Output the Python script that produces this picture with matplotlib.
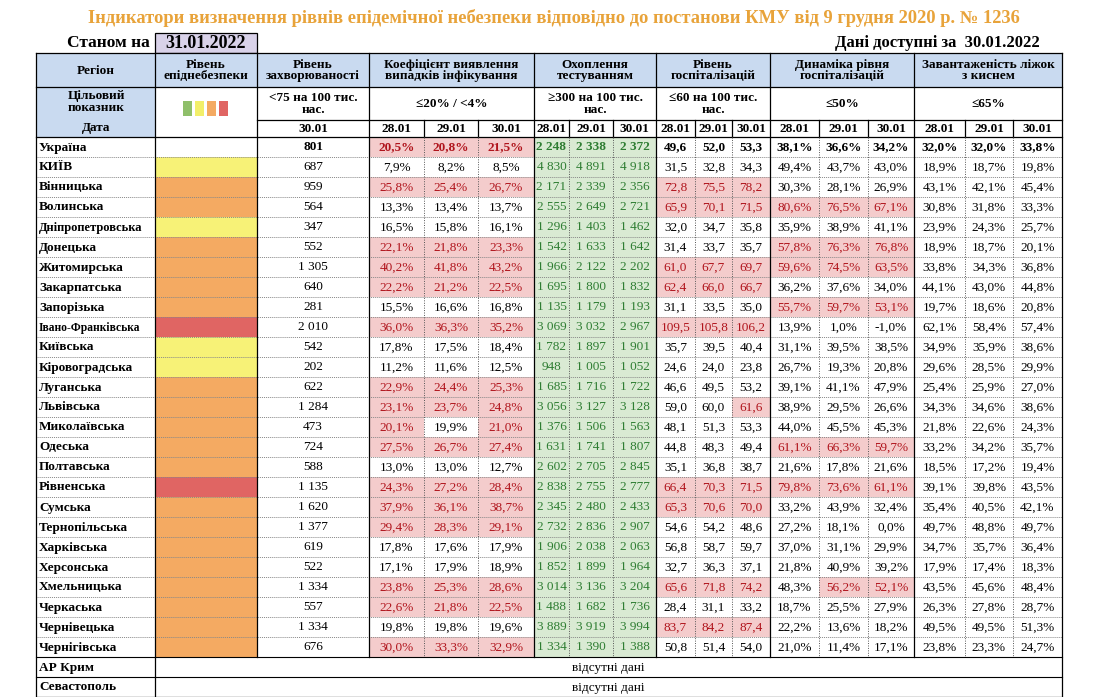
import matplotlib.pyplot as plt
from matplotlib.patches import Rectangle

plt.rcParams['font.family'] = 'Liberation Serif'

regions = ['Україна', 'КИЇВ', 'Вінницька', 'Волинська', 'Дніпропетровська', 'Донецька',
           'Житомирська', 'Закарпатська', 'Запорізька', 'Івано-Франківська', 'Київська',
           'Кіровоградська', 'Луганська', 'Львівська', 'Миколаївська', 'Одеська',
           'Полтавська', 'Рівненська', 'Сумська', 'Тернопільська', 'Харківська',
           'Херсонська', 'Хмельницька', 'Черкаська', 'Чернівецька', 'Чернігівська']
levels = ['', 'Y', 'O', 'O', 'Y', 'O', 'O', 'O', 'O', 'R', 'Y', 'Y', 'O', 'O', 'O', 'O',
          'O', 'R', 'O', 'O', 'O', 'O', 'O', 'O', 'O', 'O']
incidence = [801, 687, 959, 564, 347, 552, 1305, 640, 281, 2010, 542, 202, 622, 1284,
             473, 724, 588, 1135, 1620, 1377, 619, 522, 1334, 557, 1334, 676]
detection = [[20.5, 20.8, 21.5], [7.9, 8.2, 8.5], [25.8, 25.4, 26.7], [13.3, 13.4, 13.7],
             [16.5, 15.8, 16.1], [22.1, 21.8, 23.3], [40.2, 41.8, 43.2], [22.2, 21.2, 22.5],
             [15.5, 16.6, 16.8], [36.0, 36.3, 35.2], [17.8, 17.5, 18.4], [11.2, 11.6, 12.5],
             [22.9, 24.4, 25.3], [23.1, 23.7, 24.8], [20.1, 19.9, 21.0], [27.5, 26.7, 27.4],
             [13.0, 13.0, 12.7], [24.3, 27.2, 28.4], [37.9, 36.1, 38.7], [29.4, 28.3, 29.1],
             [17.8, 17.6, 17.9], [17.1, 17.9, 18.9], [23.8, 25.3, 28.6], [22.6, 21.8, 22.5],
             [19.8, 19.8, 19.6], [30.0, 33.3, 32.9]]
testing = [[2248, 2338, 2372], [4830, 4891, 4918], [2171, 2339, 2356], [2555, 2649, 2721],
           [1296, 1403, 1462], [1542, 1633, 1642], [1966, 2122, 2202], [1695, 1800, 1832],
           [1135, 1179, 1193], [3069, 3032, 2967], [1782, 1897, 1901], [948, 1005, 1052],
           [1685, 1716, 1722], [3056, 3127, 3128], [1376, 1506, 1563], [1631, 1741, 1807],
           [2602, 2705, 2845], [2838, 2755, 2777], [2345, 2480, 2433], [2732, 2836, 2907],
           [1906, 2038, 2063], [1852, 1899, 1964], [3014, 3136, 3204], [1488, 1682, 1736],
           [3889, 3919, 3994], [1334, 1390, 1388]]
hosp = [[49.6, 52.0, 53.3], [31.5, 32.8, 34.3], [72.8, 75.5, 78.2], [65.9, 70.1, 71.5],
        [32.0, 34.7, 35.8], [31.4, 33.7, 35.7], [61.0, 67.7, 69.7], [62.4, 66.0, 66.7],
        [31.1, 33.5, 35.0], [109.5, 105.8, 106.2], [35.7, 39.5, 40.4], [24.6, 24.0, 23.8],
        [46.6, 49.5, 53.2], [59.0, 60.0, 61.6], [48.1, 51.3, 53.3], [44.8, 48.3, 49.4],
        [35.1, 36.8, 38.7], [66.4, 70.3, 71.5], [65.3, 70.6, 70.0], [54.6, 54.2, 48.6],
        [56.8, 58.7, 59.7], [32.7, 36.3, 37.1], [65.6, 71.8, 74.2], [28.4, 31.1, 33.2],
        [83.7, 84.2, 87.4], [50.8, 51.4, 54.0]]
hosp_dyn = [[38.1, 36.6, 34.2], [49.4, 43.7, 43.0], [30.3, 28.1, 26.9], [80.6, 76.5, 67.1],
            [35.9, 38.9, 41.1], [57.8, 76.3, 76.8], [59.6, 74.5, 63.5], [36.2, 37.6, 34.0],
            [55.7, 59.7, 53.1], [13.9, 1.0, -1.0], [31.1, 39.5, 38.5], [26.7, 19.3, 20.8],
            [39.1, 41.1, 47.9], [38.9, 29.5, 26.6], [44.0, 45.5, 45.3], [61.1, 66.3, 59.7],
            [21.6, 17.8, 21.6], [79.8, 73.6, 61.1], [33.2, 43.9, 32.4], [27.2, 18.1, 0.0],
            [37.0, 31.1, 29.9], [21.8, 40.9, 39.2], [48.3, 56.2, 52.1], [18.7, 25.5, 27.9],
            [22.2, 13.6, 18.2], [21.0, 11.4, 17.1]]
beds = [[32.0, 32.0, 33.8], [18.9, 18.7, 19.8], [43.1, 42.1, 45.4], [30.8, 31.8, 33.3],
        [23.9, 24.3, 25.7], [18.9, 18.7, 20.1], [33.8, 34.3, 36.8], [44.1, 43.0, 44.8],
        [19.7, 18.6, 20.8], [62.1, 58.4, 57.4], [34.9, 35.9, 38.6], [29.6, 28.5, 29.9],
        [25.4, 25.9, 27.0], [34.3, 34.6, 38.6], [21.8, 22.6, 24.3], [33.2, 34.2, 35.7],
        [18.5, 17.2, 19.4], [39.1, 39.8, 43.5], [35.4, 40.5, 42.1], [49.7, 48.8, 49.7],
        [34.7, 35.7, 36.4], [17.9, 17.4, 18.3], [43.5, 45.6, 48.4], [26.3, 27.8, 28.7],
        [49.5, 49.5, 51.3], [23.8, 23.3, 24.7]]
dates = ['28.01', '29.01', '30.01']
no_data_regions = ['АР Крим', 'Севастополь']

level_colors = {'Y': '#f7f277', 'O': '#f4aa62', 'R': '#e06563', '': 'white'}
HEAD = '#c9daf0'
PINK, PINK_T = '#f4cccc', '#b0141c'
GREEN, GREEN_T = '#d9ead3', '#2e7d32'


def fnum(v):
    return f'{v:,}'.replace(',', ' ')


def fdec(v):
    return f'{v:.1f}'.replace('.', ',')


def fpct(v):
    return fdec(v) + '%'


fig = plt.figure(figsize=(11.13, 6.97), dpi=100)
ax = fig.add_axes([0, 0, 1, 1])
ax.set_xlim(0, 1113)
ax.set_ylim(697, 0)
ax.axis('off')


def cell(x0, x1, y0, y1, text='', fill=None, color='black', bold=False, size=9.5,
         ha='center'):
    if fill:
        ax.add_patch(Rectangle((x0, y0), x1 - x0, y1 - y0, facecolor=fill, edgecolor='none'))
    if text:
        tx = (x0 + x1) / 2 if ha == 'center' else x0 + 3
        ax.text(tx, (y0 + y1) / 2 + 0.5, text, ha=ha, va='center', fontsize=size,
                color=color, fontweight='bold' if bold else 'normal', linespacing=0.95)


# column edges
xr = [36, 155, 257, 369]
xk = [369, 424, 478, 534]
xt = [534, 569, 613, 656]
xh = [656, 695, 732, 770]
xd = [770, 819, 868, 914]
xb = [914, 965, 1013, 1062]
groups = [xk, xt, xh, xd, xb]

ax.text(554, 18, 'Індикатори визначення рівнів епідемічної небезпеки відповідно до постанови КМУ від 9 грудня 2020 р. № 1236',
        ha='center', va='center', fontsize=13.3, color='#e8a33a', fontweight='bold')
ax.text(150, 43, 'Станом на', ha='right', va='center', fontsize=12.5, fontweight='bold')
ax.add_patch(Rectangle((155, 33), 102, 20, facecolor='#d9d2e9', edgecolor='black', lw=0.9))
ax.text(206, 43, '31.01.2022', ha='center', va='center', fontsize=13, fontweight='bold')
ax.text(1040, 43, 'Дані доступні за  30.01.2022', ha='right', va='center', fontsize=12,
        fontweight='bold')

# header rows
y_h1, y_h2, y_h3, y_h4 = 53, 87, 120, 137
titles = ['Коефіцієнт виявлення\nвипадків інфікування', 'Охоплення\nтестуванням',
          'Рівень\nгоспіталізацій', 'Динаміка рівня\nгоспіталізацій',
          'Завантаженість ліжок\nз киснем']
targets = ['≤20% / <4%', '≥300 на 100 тис.\nнас.', '≤60 на 100 тис.\nнас.', '≤50%', '≤65%']
hs = 9.5
cell(xr[0], xr[1], y_h1, y_h2, 'Регіон', HEAD, bold=True, size=hs)
cell(xr[1], xr[2], y_h1, y_h2, 'Рівень\nепіднебезпеки', HEAD, bold=True, size=hs)
cell(xr[2], xr[3], y_h1, y_h2, 'Рівень\nзахворюваності', HEAD, bold=True, size=hs)
cell(xr[0], xr[1], y_h2, y_h4, '', HEAD)
ax.text(96, 102, 'Цільовий\nпоказник', ha='center', va='center', fontsize=hs, fontweight='bold',
        linespacing=0.95)
ax.text(96, 128.5, 'Дата', ha='center', va='center', fontsize=hs, fontweight='bold')
cell(xr[2], xr[3], y_h2, y_h3, '<75 на 100 тис.\nнас.', bold=True, size=hs)
cell(xr[2], xr[3], y_h3, y_h4, '30.01', bold=True, size=hs)
for i, c in enumerate(['#8fbf6a', '#f2ef6a', '#f4aa62', '#e06563']):
    ax.add_patch(Rectangle((183 + i * 12, 101), 9, 15, facecolor=c, edgecolor='none'))
for g, t, tg in zip(groups, titles, targets):
    cell(g[0], g[3], y_h1, y_h2, t, HEAD, bold=True, size=hs)
    cell(g[0], g[3], y_h2, y_h3, tg, bold=True, size=hs)
    for j in range(3):
        cell(g[j], g[j + 1], y_h3, y_h4, dates[j], bold=True, size=hs)

# data rows
y0 = 137
rh = 20
for r, name in enumerate(regions):
    ya, yb = y0 + r * rh, y0 + (r + 1) * rh
    b = r == 0
    nsize = 9.5 if len(name) < 16 else (9 if len(name) < 17 else 8.3)
    cell(xr[0], xr[1], ya, yb, name, bold=True, size=nsize, ha='left')
    cell(xr[1], xr[2], ya, yb, '', level_colors[levels[r]])
    cell(xr[2], xr[3], ya, yb, fnum(incidence[r]), bold=b)
    for j in range(3):
        v = detection[r][j]
        hi = v > 20
        cell(xk[j], xk[j + 1], ya, yb, fpct(v), PINK if hi else None, PINK_T if hi else 'black', b)
        v = testing[r][j]
        hi = v >= 300
        cell(xt[j], xt[j + 1], ya, yb, fnum(v), GREEN if hi else None, GREEN_T if hi else 'black', b)
        v = hosp[r][j]
        hi = v > 60
        cell(xh[j], xh[j + 1], ya, yb, fdec(v), PINK if hi else None, PINK_T if hi else 'black', b)
        v = hosp_dyn[r][j]
        hi = v > 50
        cell(xd[j], xd[j + 1], ya, yb, fpct(v), PINK if hi else None, PINK_T if hi else 'black', b)
        v = beds[r][j]
        hi = v > 65
        cell(xb[j], xb[j + 1], ya, yb, fpct(v), PINK if hi else None, PINK_T if hi else 'black', b)
    if r > 0:
        ax.plot([xr[0], xb[3]], [ya, ya], color='#888888', lw=0.7, ls=(0, (1, 1)))

y_end = y0 + len(regions) * rh
for k, name in enumerate(no_data_regions):
    ya, yb = y_end + k * rh, y_end + (k + 1) * rh
    cell(xr[0], xr[1], ya, yb, name, bold=True, size=9.5, ha='left')
    cell(xr[1], xb[3], ya, yb, 'відсутні дані', size=9.5)
    ax.plot([xr[0], xb[3]], [ya, ya], color='black', lw=0.8)
y_bot = y_end + len(no_data_regions) * rh

# grid lines
solid = dict(color='black', lw=0.9)
for y in [y_h1, y_h2, y0]:
    ax.plot([xr[0], xb[3]], [y, y], **solid)
ax.plot([xr[2], xb[3]], [y_h3, y_h3], **solid)
ax.plot([xr[0], xb[3]], [y_bot, y_bot], **solid)
for x in xr + [g[3] for g in groups]:
    top_end = y_bot if x in (xr[0], xr[1], xb[3]) else y_end
    ax.plot([x, x], [y_h1, top_end], **solid)
for g in groups:
    for x in g[1:3]:
        ax.plot([x, x], [y_h3, y0], **solid)
        ax.plot([x, x], [y0, y_end], color='#555555', lw=0.7, ls=(0, (1, 1.5)))

fig.savefig('out.png', dpi=100)
